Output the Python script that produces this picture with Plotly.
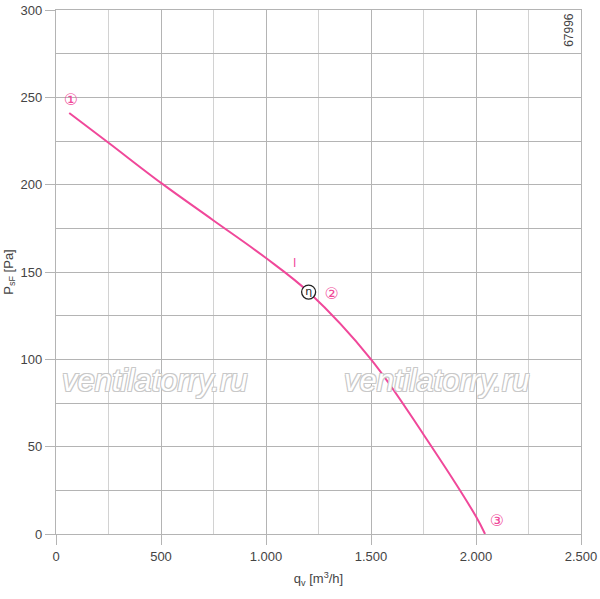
import plotly.graph_objects as go

# Fan curve data
flow_q = [63, 250, 500, 750, 1000, 1203, 1500, 1750, 2000, 2043]
pressure_p = [241, 224, 201, 179.5, 158, 138.5, 100, 57, 10, 0]

# Labels
point_labels = ["①", "②", "③"]
point_q = [71, 1313, 2100]
point_p = [248, 137, 7]

op_q = [1203]
op_p = [138.5]

x_ticks = [0, 500, 1000, 1500, 2000, 2500]
y_ticks = [0, 50, 100, 150, 200, 250, 300]

pink = "#F0489A"
grid = "#B4B4B4"
txt = "#444444"

fig = go.Figure()
fig.add_trace(go.Scatter(x=flow_q, y=pressure_p, mode="lines",
                         line=dict(color=pink, width=2, shape="spline", smoothing=1.0),
                         hoverinfo="skip", showlegend=False))
fig.add_trace(go.Scatter(x=point_q, y=point_p, mode="text", text=point_labels,
                         textfont=dict(color=pink, size=16, family="DejaVu Sans"),
                         showlegend=False, hoverinfo="skip"))
fig.add_trace(go.Scatter(x=op_q, y=op_p, mode="markers+text", text=["η"],
                         marker=dict(size=14, color="white", line=dict(color="#222", width=1.3)),
                         textposition="middle center",
                         textfont=dict(color="#222", size=11, family="DejaVu Sans"),
                         showlegend=False, hoverinfo="skip"))
fig.add_annotation(x=1138, y=155, text="I", showarrow=False,
                   font=dict(color=pink, size=12, family="Liberation Sans"))

shadow = "-1px -1px 0 #c8c8c8, 1px -1px 0 #c8c8c8, -1px 1px 0 #c8c8c8, 1px 1px 0 #c8c8c8"
for xq in [471, 1814]:
    fig.add_annotation(x=xq, y=88, text="<i>ventilatorry.ru</i>", showarrow=False,
                       font=dict(color="white", size=31, family="Liberation Sans", shadow=shadow))

fig.add_annotation(x=0.977, y=0.962, xref="paper", yref="paper", text="67996",
                   textangle=-90, showarrow=False, xanchor="center", yanchor="middle",
                   font=dict(color=txt, size=12, family="Liberation Sans"))

fig.update_layout(
    width=600, height=599,
    margin=dict(l=56, r=19, t=10, b=65, autoexpand=False),
    paper_bgcolor="white", plot_bgcolor="white",
    separators=",.",
    font=dict(family="Liberation Sans", color=txt, size=13),
    xaxis=dict(range=[0, 2500], tickvals=x_ticks, tickformat=",d", automargin=False,
               ticklabeloverflow="allow",
               showgrid=True, gridcolor=grid, gridwidth=1.2,
               minor=dict(dtick=250, showgrid=True, gridcolor="#D2D2D2", gridwidth=1.2, ticks=""),
               ticks="outside", ticklen=10, tickcolor=grid, tickwidth=1.2,
               showline=True, linecolor=grid, linewidth=1.2, mirror=True,
               zeroline=False,
               title=dict(text="q<sub>v</sub> [m<sup>3</sup>/h]", font=dict(size=13, color=txt), standoff=11)),
    yaxis=dict(range=[0, 300], tickvals=y_ticks, automargin=False,
               ticklabeloverflow="allow",
               showgrid=True, gridcolor=grid, gridwidth=1.2,
               minor=dict(dtick=25, showgrid=True, gridcolor=grid, gridwidth=1.2, ticks=""),
               ticks="outside", ticklen=10, tickcolor=grid, tickwidth=1.2,
               showline=True, linecolor=grid, linewidth=1.2, mirror=True,
               zeroline=False,
               title=dict(text="P<sub>sF</sub> [Pa]", font=dict(size=13, color=txt), standoff=4)),
)

# remove the default 8px page margin so the 600x599 figure fills the window
fig.write_html("out.html", config={"displayModeBar": False},
               post_script="document.body.style.margin='0';document.body.style.overflow='hidden';")
